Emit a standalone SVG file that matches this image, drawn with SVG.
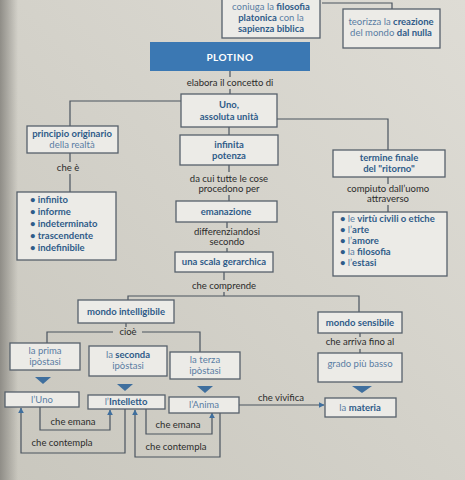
<svg xmlns="http://www.w3.org/2000/svg" width="465" height="480" viewBox="0 0 465 480">
<defs>
<linearGradient id="page" x1="1" y1="0" x2="0" y2="1">
<stop offset="0" stop-color="#dedcd5"/>
<stop offset="1" stop-color="#c9c7be"/>
</linearGradient>
<linearGradient id="gutter" x1="0" y1="0" x2="1" y2="0">
<stop offset="0" stop-color="#8f8d87"/>
<stop offset="1" stop-color="#8f8d87" stop-opacity="0"/>
</linearGradient>
<marker id="ah" viewBox="0 0 10 10" refX="9" refY="5" markerWidth="5" markerHeight="5" orient="auto-start-reverse">
<path d="M0,0 L10,5 L0,10 z" fill="#3f6f9e"/>
</marker>
</defs>
<style>
.box{fill:#ecebe7;stroke:#56606b;stroke-width:1.3}
.t{font-family:Lato,"Open Sans",sans-serif;font-size:9.5px;text-anchor:middle;fill:#5a7da3}
.b{font-weight:700;fill:#2f5b89}
.lbl{font-family:Lato,"Open Sans",sans-serif;font-size:9.5px;text-anchor:middle;fill:#2b2b2b}
.li{font-family:Lato,"Open Sans",sans-serif;font-size:9.5px;fill:#2f5b89;font-weight:700}
.ln{fill:none;stroke:#4a545f;stroke-width:1.2}
.tri{fill:#3f6f9e}
</style>
<rect width="465" height="480" fill="url(#page)"/>
<rect width="18" height="480" fill="url(#gutter)"/>

<g id="connectors">
<path class="ln" d="M322,3 H392 V9"/>
<path class="ln" d="M230,71 V77 M230,89 V94"/>
<path class="ln" d="M181,101 H70 V126"/>
<path class="ln" d="M70,153 V162 M70,174 V192"/>
<path class="ln" d="M277,119 H388 V150"/>
<path class="ln" d="M388,177 V184 M388,205 V212"/>
<path class="ln" d="M229,127 V135"/>
<path class="ln" d="M229,165 V172 M229,195 V201"/>
<path class="ln" d="M227,222 V228 M227,248 V252"/>
<path class="ln" d="M224,272 V280 M224,292 V296"/>
<path class="ln" d="M128,300 V296 H359 V312"/>
<path class="ln" d="M360,333 V337 M360,349 V353"/>
<path class="ln" d="M126,323 V327"/>
<path class="ln" d="M47,343 V332 H113 M142,332 H200 V353"/>
<polygon class="tri" points="35,377 51,377 43,384"/>
<polygon class="tri" points="117,384 133,384 125,391"/>
<polygon class="tri" points="197,386 213,386 205,393"/>
<polygon class="tri" points="352,386 372,386 362,393"/>
<path class="ln" d="M239,405 H324" marker-end="url(#ah)"/>
<text class="lbl" x="281" y="401">che vivifica</text>
<path class="ln" d="M40,407 V430 H110 V410" marker-end="url(#ah)"/>
<text class="lbl" x="73" y="425">che emana</text>
<path class="ln" d="M125,409 V453 H21 V408" marker-end="url(#ah)"/>
<text class="lbl" x="62" y="446">che contempla</text>
<path class="ln" d="M146,409 V434 H212 V413" marker-end="url(#ah)"/>
<text class="lbl" x="178" y="428">che emana</text>
<path class="ln" d="M220,413 V457 H135 V410" marker-end="url(#ah)"/>
<text class="lbl" x="176" y="450">che contempla</text>
<text class="lbl" x="230" y="86">elabora il concetto di</text>
<text class="lbl" x="68" y="171">che è</text>
<text class="lbl" x="388" y="192">compiuto dall’uomo</text>
<text class="lbl" x="388" y="202">attraverso</text>
<text class="lbl" x="229" y="182">da cui tutte le cose</text>
<text class="lbl" x="229" y="192">procedono per</text>
<text class="lbl" x="227" y="235">differenziandosi</text>
<text class="lbl" x="227" y="245">secondo</text>
<text class="lbl" x="224" y="289">che comprende</text>
<text class="lbl" x="360" y="345">che arriva fino al</text>
<text class="lbl" x="128" y="335">cioè</text>
</g>

<g id="coniuga">
<rect class="box" x="222" y="-3" width="98" height="41"/>
<text class="t" x="271" y="10">coniuga la <tspan class="b">filosofia</tspan></text>
<text class="t" x="271" y="21"><tspan class="b">platonica</tspan> con la</text>
<text class="t" x="271" y="32"><tspan class="b">sapienza biblica</tspan></text>
</g>
<g id="teorizza">
<rect class="box" x="343" y="9" width="97" height="39"/>
<text class="t" x="391" y="25">teorizza la <tspan class="b">creazione</tspan></text>
<text class="t" x="391" y="36">del mondo <tspan class="b">dal nulla</tspan></text>
</g>
<g id="plotino">
<rect x="150" y="42" width="160" height="29" fill="#3b78b3"/>
<text class="t b" x="230" y="61" style="fill:#ffffff;font-size:10px;letter-spacing:0.5px">PLOTINO</text>
</g>
<g id="uno">
<rect class="box" x="181" y="94" width="96" height="33"/>
<text class="t b" x="229" y="108">Uno,</text>
<text class="t b" x="229" y="120">assoluta unità</text>
</g>
<g id="principio">
<rect class="box" x="27" y="126" width="91" height="27"/>
<text class="t b" x="72" y="137">principio originario</text>
<text class="t" x="72" y="148">della realtà</text>
</g>
<g id="lista1">
<rect class="box" x="17" y="192" width="99" height="68"/>
<text class="li" x="30" y="203">• infinito</text>
<text class="li" x="30" y="215">• informe</text>
<text class="li" x="30" y="227">• indeterminato</text>
<text class="li" x="30" y="239">• trascendente</text>
<text class="li" x="30" y="251">• indefinibile</text>
</g>
<g id="termine">
<rect class="box" x="333" y="150" width="112" height="27"/>
<text class="t b" x="389" y="161">termine finale</text>
<text class="t b" x="389" y="172">del "ritorno"</text>
</g>
<g id="lista2">
<rect class="box" x="333" y="212" width="114" height="64"/>
<text class="li" x="340" y="222">• <tspan style="font-weight:400;fill:#5a7da3">le</tspan> virtù civili o etiche</text>
<text class="li" x="340" y="233">• <tspan style="font-weight:400;fill:#5a7da3">l’</tspan>arte</text>
<text class="li" x="340" y="244">• <tspan style="font-weight:400;fill:#5a7da3">l’</tspan>amore</text>
<text class="li" x="340" y="255">• <tspan style="font-weight:400;fill:#5a7da3">la</tspan> filosofia</text>
<text class="li" x="340" y="266">• <tspan style="font-weight:400;fill:#5a7da3">l’</tspan>estasi</text>
</g>
<g id="potenza">
<rect class="box" x="180" y="135" width="98" height="30"/>
<text class="t b" x="229" y="148">infinita</text>
<text class="t b" x="229" y="159">potenza</text>
</g>
<g id="emanazione">
<rect class="box" x="176" y="201" width="101" height="21"/>
<text class="t b" x="226" y="215">emanazione</text>
</g>
<g id="scala">
<rect class="box" x="175" y="252" width="98" height="20"/>
<text class="t b" x="224" y="265">una scala gerarchica</text>
</g>
<g id="intelligibile">
<rect class="box" x="78" y="300" width="96" height="23"/>
<text class="t b" x="126" y="315">mondo intelligibile</text>
</g>
<g id="sensibile">
<rect class="box" x="318" y="312" width="84" height="21"/>
<text class="t b" x="360" y="326">mondo sensibile</text>
</g>
<g id="grado">
<rect class="box" x="318" y="353" width="84" height="29"/>
<text class="t" x="360" y="367">grado più basso</text>
</g>
<g id="materia">
<rect class="box" x="325" y="398" width="71" height="19"/>
<text class="t" x="360" y="411">la <tspan class="b">materia</tspan></text>
</g>
<g id="prima">
<rect class="box" x="10" y="343" width="70" height="27"/>
<text class="t" x="45" y="354">la prima</text>
<text class="t" x="45" y="365">ipòstasi</text>
</g>
<g id="seconda">
<rect class="box" x="89" y="346" width="78" height="30"/>
<text class="t" x="128" y="358">la <tspan class="b">seconda</tspan></text>
<text class="t" x="128" y="369">ipòstasi</text>
</g>
<g id="terza">
<rect class="box" x="170" y="352" width="70" height="27"/>
<text class="t" x="205" y="363">la terza</text>
<text class="t" x="205" y="374">ipòstasi</text>
</g>
<g id="luno">
<rect class="box" x="5" y="392" width="74" height="15"/>
<text class="t" x="42" y="403">l’Uno</text>
</g>
<g id="intelletto">
<rect class="box" x="88" y="395" width="77" height="14"/>
<text class="t" x="126" y="405">l’<tspan class="b">Intelletto</tspan></text>
</g>
<g id="anima">
<rect class="box" x="169" y="397" width="70" height="16"/>
<text class="t" x="204" y="408">l’Anima</text>
</g>
</svg>
